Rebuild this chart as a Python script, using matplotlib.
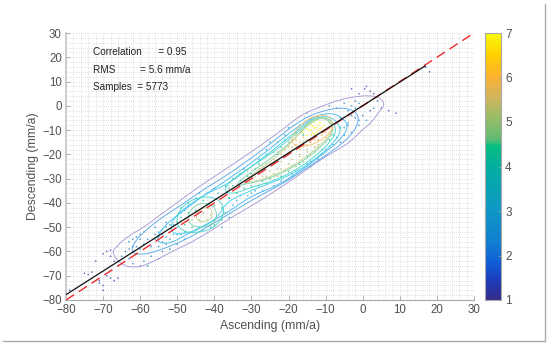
import matplotlib
matplotlib.use("Agg")
import matplotlib.pyplot as plt
from matplotlib.colors import LinearSegmentedColormap, Normalize
from matplotlib.cm import ScalarMappable
from matplotlib.lines import Line2D
from matplotlib.patches import PathPatch
from matplotlib.path import Path

plt.rcParams['font.family'] = ['Liberation Sans', 'DejaVu Sans']

# contour lines, outer to inner (mm/a)
c_outer = [(-67.6, -60.6), (-66.8, -58.6), (-63.3, -53.6), (-59.2, -50.3), (-54.7, -45), (-50.1, -40),
           (-43.9, -33), (-38.5, -27.7), (-23.6, -12.3), (-16.9, -3.8), (-11.5, -0.5), (-8, 1.6), (-3.4, 3.6),
           (2.5, 4.4), (5, 3), (6, 0.3), (4.1, -3), (2.5, -6.7), (-0.2, -10), (-3.4, -14.9), (-6.9, -18.2),
           (-11.5, -22.3), (-16.4, -27.7), (-23.6, -35.1), (-29.6, -40.9), (-36.6, -47), (-43.9, -54.5),
           (-51.2, -59.8), (-58.2, -65.6), (-61.9, -66.8), (-65.4, -65.2)]
c_blue = [(-62.7, -60), (-61, -55), (-59, -52), (-54.7, -46.5), (-49, -41), (-43, -34.5), (-37, -29), (-30, -21.5),
          (-24, -14.5), (-17, -6), (-11, -2), (-5, -0.5), (-1, -3), (-1.5, -9), (-5, -15), (-10, -20.5), (-15, -25.5),
          (-22, -32.5), (-29, -38), (-36, -44.5), (-42, -50), (-47.4, -55), (-55.5, -60), (-60, -61.5)]
c_sky = [(-56, -56), (-54, -50), (-49, -44), (-43, -37), (-37, -31), (-30, -23.5), (-24, -16.5), (-18, -9), (-12, -3.5),
         (-7, -3), (-3.5, -8), (-6, -14), (-10, -19), (-16, -26), (-23, -33), (-30, -37), (-35, -42.5), (-41, -48),
         (-47, -52.5), (-52, -57)]
c_cyan = [(-52, -52), (-51, -46), (-47, -41), (-42, -36), (-36, -32), (-30, -25), (-24, -18), (-18, -10.5), (-13, -4.5),
          (-8, -4.5), (-5.5, -10), (-8, -15.5), (-12, -21), (-18, -27.5), (-25, -32), (-32, -36), (-37, -40),
          (-39, -46), (-44, -51), (-49, -53)]
c_teal_a = [(-37.7, -35), (-35, -30), (-30, -25), (-24, -19), (-18, -11.5), (-13, -5), (-9, -5), (-6.8, -10), (-9, -15.5),
            (-13, -21), (-18, -26.5), (-24, -31), (-30, -33.5), (-35, -36.5)]
c_teal_b = [(-50.5, -47), (-48.5, -40.5), (-43, -37), (-38.5, -38.5), (-37, -44), (-40, -50.5), (-45, -52.5), (-49, -51.5)]
c_green_a = [(-35, -33.5), (-30, -27), (-24, -21), (-18, -13), (-14, -6.5), (-10, -4.5), (-7.5, -10), (-10, -15),
             (-14, -20.5), (-19, -25.5), (-25, -30), (-31, -32)]
c_green_b = [(-47.5, -46), (-45.5, -41), (-42, -39.8), (-39.5, -42.5), (-39.3, -47), (-42, -50), (-46, -49.8)]
c_olive_a = [(-33, -32), (-29, -27.5), (-24, -22), (-19, -15), (-15.5, -8), (-12, -4.5), (-8.5, -6), (-8, -10.5),
             (-11, -15.5), (-16, -22), (-21, -26.5), (-27, -30.5)]
c_olive_b = [(-45, -45), (-43.5, -42), (-41, -42), (-40.5, -44.5), (-41, -47), (-43, -47.8), (-44.5, -47.5)]
c_orange = [(-19.5, -13), (-16, -6.5), (-12, -3.5), (-8.5, -4.5), (-7.8, -10), (-12, -15), (-15.6, -17), (-18.5, -16.5)]

contours = [c_outer, c_blue, c_sky, c_cyan, c_teal_a, c_teal_b, c_green_a, c_green_b,
            c_olive_a, c_olive_b, c_orange]
contour_colors = ['#a79bd6', '#5aa9ec', '#4abaf0', '#45d0ec', '#4ad6c8', '#4ad6c8', '#7cd4a8', '#7cd4a8',
                  '#c8d69a', '#c8d69a', '#f6c67a']

# scatter dots, grouped by the colourbar value they show
dots_1 = [(-79, -76), (-75, -69), (-74, -69.5), (-73, -68.5), (-72, -64), (-71, -72), (-70, -61), (-69, -60),
          (-68, -59.5), (-69, -70), (-68, -71), (-67, -72), (-66, -71), (-70, -74), (-70, -76), (-71, -73),
          (-68, -62), (-67, -64), (17, 16), (18, 14), (-3, 7), (-1, 5), (0.5, 7), (1, 8), (2, 6), (3, 5),
          (5, -1), (7, -2), (9, -3), (4, 2), (2, -2)]
dots_2 = [(-64, -60), (-63, -56), (-62, -55), (-61, -58), (-60, -55), (-59, -52), (-65, -62), (-63, -63),
          (-62, -65), (-60, -66), (-59, -64), (-58, -66), (-57, -62), (-55, -63), (-54, -60), (-61, -61),
          (-60, -53), (-56, -50), (-53, -48), (-1, -8), (0, -4), (1, -6), (3, -1), (-2, -5), (-4, -2), (-1, 1),
          (-3, 0), (-5, 1), (-7, -1), (-3, -11), (-4, -8), (-6, -15), (-9, 0), (-2, 2), (0, 0), (-63, -59),
          (-62, -58), (-61, -54), (-60, -59), (-59, -57), (-58, -55), (-57, -58), (-56, -53), (-55, -58),
          (-54, -53), (-53, -57), (-52, -59), (-50, -57), (-48, -55), (-2, -1), (-3, -4), (-1, -6), (-5, -12)]
dots_3 = [(-56, -55), (-55, -52), (-54, -56), (-53, -50), (-52, -55), (-51, -49), (-50, -53), (-49, -44),
          (-48, -52), (-47, -41), (-46, -52), (-45, -38), (-42, -36), (-40, -34), (-38, -50), (-36, -46),
          (-35, -30), (-34, -39), (-33, -37), (-32, -26), (-30, -36), (-28, -22), (-27, -35), (-25, -15),
          (-20, -30), (-18, -27), (-20, -9), (-15, -24), (-15, -3), (-11, -20), (-8, -16), (-6, -5), (-5, -9),
          (-55, -54), (-54, -51), (-53, -54), (-52, -49), (-51, -53), (-50, -50), (-49, -53), (-48, -43),
          (-44, -36), (-43, -51), (-41, -50), (-39, -36), (-37, -33), (-36, -38), (-35, -41), (-33, -28),
          (-31, -37), (-29, -35), (-26, -18), (-24, -33), (-23, -15), (-22, -31), (-21, -12), (-19, -29),
          (-17, -8), (-14, -25), (-12, -22), (-10, -18), (-7, -13), (-6, -9), (-4, -7)]
dots_4 = [(-50, -48), (-49, -46), (-48, -49), (-47, -44), (-46, -50), (-45, -43), (-44, -50), (-42, -41),
          (-41, -49), (-40, -41), (-38, -42), (-38, -47), (-36, -38), (-35, -33), (-34, -36), (-32, -34),
          (-31, -29), (-30, -33), (-29, -26), (-28, -33), (-27, -31), (-26, -20), (-25, -30), (-24, -19),
          (-22, -29), (-21, -14), (-20, -27), (-18, -11), (-17, -24), (-15, -21), (-13, -19), (-12, -5), (-8, -12),
          (-49, -42), (-47, -40), (-45, -51), (-43, -39), (-40, -49), (-37, -44), (-36, -34), (-33, -31), (-30, -28),
          (-28, -24), (-26, -32), (-23, -20), (-22, -17), (-19, -28), (-16, -12), (-14, -23), (-11, -18), (-9, -14)]
dots_5 = [(-46, -47), (-45, -44), (-44, -47), (-43, -44), (-42, -47), (-41, -45), (-40, -47), (-28, -28),
          (-27, -25), (-26, -29), (-25, -24), (-24, -28), (-23, -19), (-23, -26), (-22, -23), (-21, -27),
          (-21, -18), (-20, -24), (-20, -15), (-19, -22), (-18, -25), (-18, -18), (-17, -21), (-16, -23),
          (-16, -15), (-15, -19), (-14, -20), (-13, -17), (-10, -15), (-12, -17), (-20, -20), (-24, -22),
          (-32, -31), (-31, -27), (-30, -30), (-29, -29), (-28, -26), (-27, -29), (-26, -24), (-25, -27),
          (-24, -24), (-23, -29), (-22, -26), (-22, -20), (-19, -17), (-17, -20), (-15, -18), (-12, -16)]
dots_6 = [(-19, -14), (-18, -12), (-18, -16), (-17, -10), (-17, -15), (-16, -8), (-16, -16), (-15, -7), (-15, -14),
          (-14, -15), (-14, -6), (-13, -14), (-13, -5), (-12, -14), (-11, -12), (-11, -5), (-10, -13), (-10, -5),
          (-9, -11), (-9, -7), (-8.5, -9), (-20, -17), (-19, -18), (-17, -18), (-18, -14), (-16, -13), (-15, -16),
          (-13, -12), (-12, -4.5), (-10, -11), (-9, -9), (-16.5, -11), (-14, -5.5), (-17, -8.5)]
dots_7 = [(-16, -11), (-15.5, -9), (-15, -12), (-14.5, -10), (-14, -8), (-14, -12), (-13.5, -11), (-13, -9), (-13, -7),
          (-12.5, -11), (-12, -8), (-12, -10), (-11.5, -7), (-11, -9), (-11, -11), (-10.5, -8), (-14, -10), (-12.5, -6),
          (-15, -9.5), (-13.5, -8.5), (-12.5, -9), (-11.5, -9.5), (-13, -11.5), (-14.5, -7.5)]
dot_groups = [dots_1, dots_2, dots_3, dots_4, dots_5, dots_6, dots_7]
dot_values = [1.3, 2.2, 3.2, 4.3, 5.2, 6.0, 6.9]

cbar_ticks = [1, 2, 3, 4, 5, 6, 7]
axis_ticks = list(range(-80, 31, 10))

parula = LinearSegmentedColormap.from_list("parula_like", [
    (0.0, '#352a87'), (0.08, '#1a3fc0'), (0.14, '#0f5fd8'), (0.22, '#1180d0'), (0.34, '#0f98c6'),
    (0.5, '#02aea0'), (0.58, '#08bf80'), (0.6, '#5fbb72'), (0.68, '#96bd68'), (0.76, '#d2b45e'),
    (0.84, '#fdb22f'), (0.92, '#ffd000'), (1.0, '#f8fa0d')])
norm = Normalize(1, 7)


def smooth_patch(pts, color):
    # closed quadratic spline with the read points as control points
    mids = [((a[0] + b[0]) / 2, (a[1] + b[1]) / 2) for a, b in zip(pts, pts[1:] + pts[:1])]
    verts = [mids[-1]]
    codes = [Path.MOVETO]
    for p, m in zip(pts, mids):
        verts += [p, m]
        codes += [Path.CURVE3, Path.CURVE3]
    return PathPatch(Path(verts, codes), fill=False, edgecolor=color, linewidth=0.65, zorder=3)


fig = plt.figure(figsize=(5.5, 3.46), dpi=100)
ax = fig.add_axes([66 / 550, 46 / 346, 408 / 550, 267 / 346])
cax = fig.add_axes([485 / 550, 46 / 346, 16 / 550, 267 / 346])

for group, val in zip(dot_groups, dot_values):
    xs = [p[0] for p in group]
    ys = [p[1] for p in group]
    ax.scatter(xs, ys, c=[val] * len(xs), cmap=parula, norm=norm, s=1.5, linewidths=0, alpha=0.7, zorder=2)

for pts, col in zip(contours, contour_colors):
    ax.add_patch(smooth_patch(pts, col))

ax.plot([-80, 30], [-80, 30], color='#ee2a2a', lw=1, dashes=(7, 4), zorder=4)
ax.plot([-80, 16.8], [-77.8, 16.4], color='#111111', lw=0.9, zorder=5)

ax.set_xlim(-80, 30)
ax.set_ylim(-80, 30)
ax.set_xticks(axis_ticks)
ax.set_yticks(axis_ticks)
ax.set_xticks(range(-80, 31, 2), minor=True)
ax.set_yticks(range(-80, 31, 2), minor=True)
ax.grid(which='both', color='#d6d6d6', lw=0.6, ls=(0, (1, 1.5)), zorder=0)
ax.set_axisbelow(True)
ax.tick_params(which='major', direction='in', length=3, width=0.6, color='#a0a0a0',
               labelsize=8.3, labelcolor='#505050', pad=3)
ax.tick_params(which='minor', length=0)
ax.spines['top'].set_visible(False)
ax.spines['right'].set_visible(False)
ax.spines['left'].set_color('#c4c4c4')
ax.spines['left'].set_linewidth(1.2)
ax.spines['bottom'].set_color('#a8a8a8')
ax.spines['bottom'].set_linewidth(0.8)
ax.set_xlabel("Ascending (mm/a)", fontsize=8.8, color='#505050', labelpad=3)
ax.set_ylabel("Descending (mm/a)", fontsize=8.8, color='#505050', labelpad=2)

ax.text(93 / 550, 1 - 52 / 346, "Correlation      = 0.95", transform=fig.transFigure, fontsize=7.2,
        color='#222222', va='center')
ax.text(93 / 550, 1 - 70 / 346, "RMS         = 5.6 mm/a", transform=fig.transFigure, fontsize=7.2,
        color='#222222', va='center')
ax.text(93 / 550, 1 - 87 / 346, "Samples  = 5773", transform=fig.transFigure, fontsize=7.2,
        color='#222222', va='center')

cb = fig.colorbar(ScalarMappable(norm=norm, cmap=parula), cax=cax, ticks=cbar_ticks)
cb.ax.tick_params(direction='in', length=2, width=0.5, color='#a0a0a0', labelsize=8.5, labelcolor='#505050', pad=3)
cb.outline.set_edgecolor('#a8a8a8')
cb.outline.set_linewidth(0.8)

# frame of the original figure
fig.add_artist(Line2D([3 / 550, 545 / 550, 545 / 550], [1 - 341 / 346, 1 - 341 / 346, 1 - 4 / 346],
                      color='#aaaaaa', lw=1))

fig.savefig("out.png", dpi=100)
